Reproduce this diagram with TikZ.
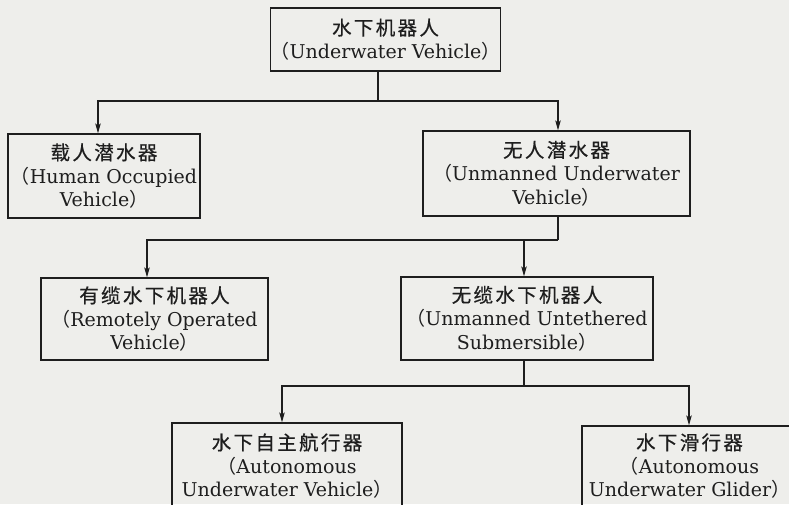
\documentclass[tikz,border=0pt]{standalone}
\usepackage{fontspec}
\setmainfont{DejaVu Serif}
\newfontfamily\cjk[LetterSpace=12,FakeBold=0.6]{Noto Sans CJK SC}
\newfontfamily\cjkp{Noto Sans CJK SC}
\newcommand\zh[1]{{\cjk\fontsize{19.5}{23.5}\selectfont #1}}
\newcommand\lp{{\cjkp （}}
\newcommand\rp{{\cjkp ）}}
\usetikzlibrary{arrows.meta}
\definecolor{paper}{RGB}{238,238,235}
\definecolor{ink}{RGB}{30,30,30}
\tikzset{
  box/.style={draw=ink, line width=1.3pt, inner sep=0pt, align=center,
    text=ink, font=\fontsize{19}{23.5}\selectfont},
  link/.style={draw=ink, line width=1.2pt},
  arr/.style={link, -{Stealth[length=10pt,width=5.5pt,inset=2.5pt]}}
}
\begin{document}
\begin{tikzpicture}[x=1pt,y=-1pt]
\fill[paper] (0,0) rectangle (789,504);
\useasboundingbox (0,0) rectangle (789,504);
\clip (0,0) rectangle (789,504);
\node[box, minimum width=227pt, minimum height=63pt] (top) at (385.5,39.5)
  {\zh{水下机器人}\\\lp Underwater Vehicle\rp};
\node[box, minimum width=192pt, minimum height=84pt] (hov) at (104,176)
  {\zh{载人潜水器}\\\lp Human Occupied\\Vehicle\rp};
\node[box, minimum width=267pt, minimum height=85pt] (uuv) at (556.5,173.5)
  {\zh{无人潜水器}\\\lp Unmanned Underwater\\Vehicle\rp};
\node[box, minimum width=227pt, minimum height=82pt] (rov) at (154.5,319)
  {\zh{有缆水下机器人}\\\lp Remotely Operated\\Vehicle\rp};
\node[box, minimum width=252pt, minimum height=83pt] (uus) at (527,318.5)
  {\zh{无缆水下机器人}\\\lp Unmanned Untethered\\Submersible\rp};
\node[box, minimum width=230pt, minimum height=86pt] (auv) at (287,466)
  {\zh{水下自主航行器}\\\lp Autonomous\\Underwater Vehicle\rp};
\node[box, minimum width=215pt, minimum height=80pt] (aug) at (689.5,466)
  {\zh{水下滑行器}\\\lp Autonomous\\Underwater Glider\rp};
% level 1
\coordinate (j1) at (378,101);
\coordinate (x1) at (98,0);
\coordinate (x2) at (558,0);
\draw[link] (top.south -| j1) -- (j1);
\draw[arr] (j1) -| (x1 |- hov.north);
\draw[arr] (j1) -| (x2 |- uuv.north);
% level 2
\coordinate (j2) at (558,240);
\coordinate (x3) at (147,0);
\coordinate (x4) at (524,0);
\draw[link] (uuv.south -| j2) -- (j2);
\draw[arr] (j2) -| (x3 |- rov.north);
\draw[arr] (x4 |- j2) -- (x4 |- uus.north);
% level 3
\coordinate (j3) at (524,386);
\coordinate (x5) at (282,0);
\coordinate (x6) at (689,0);
\draw[link] (uus.south -| j3) -- (j3);
\draw[arr] (j3) -| (x5 |- auv.north);
\draw[arr] (j3) -| (x6 |- aug.north);
\end{tikzpicture}
\end{document}
